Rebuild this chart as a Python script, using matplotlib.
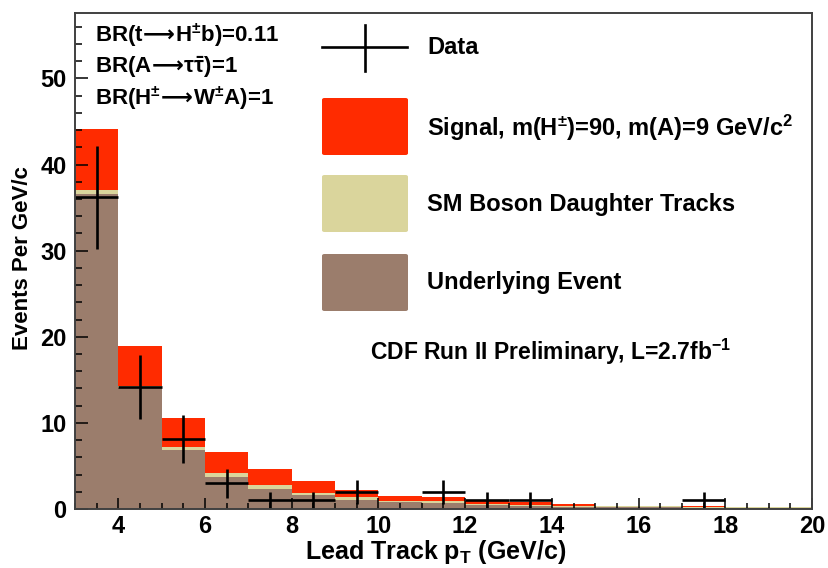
import numpy as np
import matplotlib
matplotlib.use("Agg")
import matplotlib.pyplot as plt
from matplotlib import font_manager, ft2font
from matplotlib.patches import FancyBboxPatch
from matplotlib.lines import Line2D
from matplotlib.ticker import MultipleLocator

plt.rcParams['font.family'] = ['Liberation Sans', 'DejaVu Sans']
plt.rcParams['font.weight'] = 'bold'
plt.rcParams['mathtext.fontset'] = 'custom'
plt.rcParams['mathtext.rm'] = 'Liberation Sans:bold'
plt.rcParams['mathtext.it'] = 'Liberation Sans:bold'
plt.rcParams['mathtext.bf'] = 'Liberation Sans:bold'
plt.rcParams['mathtext.sf'] = 'DejaVu Sans:bold'
plt.rcParams['mathtext.default'] = 'rm'

# pick a long arrow if the DejaVu font has it
_dv = ft2font.FT2Font(font_manager.findfont('DejaVu Sans:bold'))
ARROW = r'\longrightarrow' if 0x27F6 in _dv.get_charmap() else r'\rightarrow'
A = r'\!\mathsf{' + ARROW + r'}\!'

# ---------------- data ----------------
bin_low = [3, 4, 5, 6, 7, 8, 9, 10, 11, 12, 13, 14, 15, 16, 17, 18, 19]
underlying = [36.6, 14.0, 6.9, 3.75, 2.3, 1.6, 1.1, 0.8, 0.7, 0.45, 0.35, 0.25, 0.2, 0.2, 0.15, 0.12, 0.1]
sm_boson = [0.4, 0.3, 0.25, 0.45, 0.45, 0.3, 0.25, 0.17, 0.2, 0.15, 0.15, 0.1, 0.15, 0.1, 0.1, 0.08, 0.08]
signal = [7.1, 4.6, 3.45, 2.4, 1.85, 1.3, 0.85, 0.58, 0.45, 0.37, 0.3, 0.23, 0.05, 0.1, 0.05, 0.05, 0.02]
data = [36.2, 14.2, 8.1, 3.0, 1.0, 1.0, 2.0, 0, 2.0, 1.0, 1.0, 0, 0, 0, 1.0, 0, 0]
data_err = [6.0, 3.7, 2.8, 1.7, 1.0, 1.0, 1.4, 0, 1.4, 1.0, 1.0, 0, 0, 0, 1.0, 0, 0]

legend_labels = ["Data",
                 r"Signal, m(H$^{\pm}$)=90, m(A)=9 GeV/c$^{2}$",
                 "SM Boson Daughter Tracks",
                 "Underlying Event"]
br_lines = ["BR(t$" + A + "$H$^{\\pm}$b)=0.11",
            "BR(A$" + A + "\\tau\\bar{\\tau}$)=1",
            "BR(H$^{\\pm}" + A + "$W$^{\\pm}$A)=1"]
cdf_text = r"CDF Run II Preliminary, L=2.7fb$^{-1}$"

RED = '#FF2B00'
BEIGE = '#DAD59C'
BROWN = '#9B7D6C'
FRAME = '#404040'

W, H = 829, 568
fig = plt.figure(figsize=(W / 100, H / 100), dpi=100)
ax = fig.add_axes([75 / W, 1 - 509 / H, (812 - 75) / W, (509 - 13) / H])

lows = np.array(bin_low, dtype=float)
ue = np.array(underlying)
sm = np.array(sm_boson)
sg = np.array(signal)
d = np.array(data)
de = np.array(data_err)

ax.bar(lows, ue, width=1.0, align='edge', color=BROWN, lw=0, zorder=1)
ax.bar(lows, sm, width=1.0, bottom=ue, align='edge', color=BEIGE, lw=0, zorder=1)
ax.bar(lows, sg, width=1.0, bottom=ue + sm, align='edge', color=RED, lw=0, zorder=1)

mask = d > 0
ax.errorbar(lows[mask] + 0.5, d[mask], yerr=de[mask], xerr=0.5, fmt='none',
            ecolor='black', elinewidth=1.9, capsize=0, zorder=3)

ax.set_xlim(3, 20)
ax.set_ylim(0, 57.6)
ax.xaxis.set_major_locator(MultipleLocator(2))
ax.xaxis.set_minor_locator(MultipleLocator(0.5))
ax.yaxis.set_major_locator(MultipleLocator(10))
ax.yaxis.set_minor_locator(MultipleLocator(2))
ax.tick_params(axis='both', which='both', direction='in', top=False, right=False,
               color='black', width=1.1, zorder=4)
ax.tick_params(axis='x', which='major', length=8, pad=4, labelsize=17)
ax.tick_params(axis='x', which='minor', length=4.3)
ax.tick_params(axis='y', which='major', length=9.5, pad=6, labelsize=17)
ax.tick_params(axis='y', which='minor', length=5)
for s in ax.spines.values():
    s.set_color(FRAME)
    s.set_linewidth(1.4)
    s.set_zorder(5)

xl = ax.set_xlabel(r"Lead Track p$_{\mathrm{T}}$ (GeV/c)", fontsize=18, fontweight='bold')
xl.set_va('center')
ax.xaxis.set_label_coords((436 - 75) / 737, (509 - 552) / 496)
yl = ax.set_ylabel("Events Per GeV/c", fontsize=16, fontweight='bold')
yl.set_va('center')
ax.yaxis.set_label_coords((22 - 75) / 737, (509 - 258) / 496)


def fx(x):
    return x / W


def fy(y):
    return 1 - y / H


# BR texts
for txt, yc in zip(br_lines, [35, 67, 98]):
    fig.text(fx(95), fy(yc), txt, fontsize=16, fontweight='bold', ha='left', va='center')

# legend
fig.add_artist(Line2D([fx(322), fx(407)], [fy(47), fy(47)], color='black', lw=1.9))
fig.add_artist(Line2D([fx(365), fx(365)], [fy(25), fy(71)], color='black', lw=1.9))
boxes = [(98, 155, RED), (175, 232, BEIGE), (254, 311, BROWN)]
for (y0, y1, c) in boxes:
    fig.add_artist(FancyBboxPatch((fx(322), fy(y1)), fx(408) - fx(322), fy(y0) - fy(y1),
                                  boxstyle="round,pad=0,rounding_size=0.003",
                                  transform=fig.transFigure, facecolor=c, edgecolor='none'))
for txt, yc in zip(legend_labels, [48, 128, 204, 283]):
    fig.text(fx(427), fy(yc), txt, fontsize=17, fontweight='bold', ha='left', va='center')

fig.text(fx(370), fy(352), cdf_text, fontsize=16.5, fontweight='bold', ha='left', va='center')

fig.savefig("out.png", dpi=100)
